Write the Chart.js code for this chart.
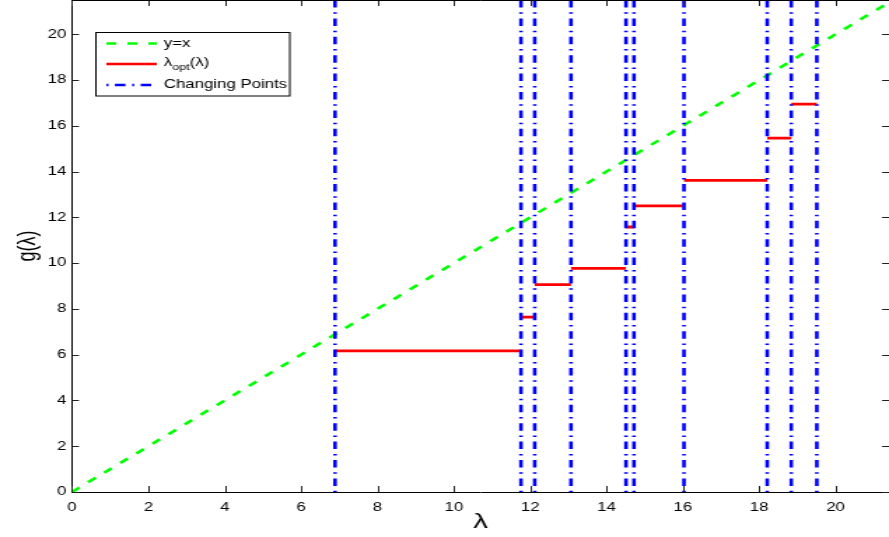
<!DOCTYPE html>
<html lang="en">
<head>
  <meta charset="UTF-8" />
  <title>g(λ) and changing points</title>
  <script src="https://cdn.jsdelivr.net/npm/chart.js"></script>
  <style>
    html, body {
      margin: 0;
      padding: 0;
      background: #fff;
      overflow: hidden;
    }
    canvas {
      display: block;
    }
  </style>
</head>
<body>
  <!-- the original figure is stretched sideways, so the canvas is drawn narrow and widened by css -->
  <canvas id="gChart" width="635" height="537" style="width:889px;height:537px"></canvas>

  <script>
    const lambdaMax = 21.4;
    const gMax = 21.5;

    // lambda values where lambda_opt jumps
    const changePoints = [6.89, 11.76, 12.12, 13.07, 14.51, 14.72, 16.03, 18.21, 18.84, 19.51];
    // lambda_opt level between two consecutive changing points
    const optLevels = [6.17, 7.64, 9.06, 9.77, 11.58, 12.50, 13.62, 15.46, 16.95];

    const xTickValues = [0, 2, 4, 6, 8, 10, 12, 14, 16, 18, 20];
    const yTickValues = [0, 2, 4, 6, 8, 10, 12, 14, 16, 18, 20];

    const legendLabels = ['y=x', 'λopt(λ)', 'Changing Points'];

    const FONT = "'Liberation Sans', Arial, sans-serif";
    const GREEN = '#00ff00', RED = '#ff0000', BLUE = '#0000ff';
    const BLUE_DASH = [7.5, 4.8, 1.5, 4.6];

    const identityData = [{ x: 0, y: 0 }, { x: lambdaMax, y: lambdaMax }];

    const optData = [];
    optLevels.forEach((lv, i) => {
      optData.push({ x: changePoints[i], y: lv });
      optData.push({ x: changePoints[i + 1], y: lv });
      optData.push({ x: changePoints[i + 1], y: null });
    });

    const changeData = [];
    changePoints.forEach(cp => {
      changeData.push({ x: cp, y: gMax });
      changeData.push({ x: cp, y: 0 });
      changeData.push({ x: cp, y: null });
    });

    // matlab style ticks, pointing into the plot, plus the top box line
    const inwardTicks = {
      id: 'inwardTicks',
      afterDraw(chart) {
        const { ctx, chartArea: a, scales: { x, y } } = chart;
        ctx.save();
        ctx.strokeStyle = '#222';
        ctx.lineWidth = 1;
        ctx.beginPath();
        x.ticks.forEach(t => {
          const px = Math.round(x.getPixelForValue(t.value)) + 0.5;
          ctx.moveTo(px, a.bottom);
          ctx.lineTo(px, a.bottom - 6);
          ctx.moveTo(px, a.top);
          ctx.lineTo(px, a.top + 6);
        });
        y.ticks.forEach(t => {
          const py = Math.round(y.getPixelForValue(t.value)) + 0.5;
          ctx.moveTo(a.left, py);
          ctx.lineTo(a.left + 5, py);
          ctx.moveTo(a.right, py);
          ctx.lineTo(a.right - 5, py);
        });
        ctx.stroke();
        ctx.strokeStyle = '#000';
        ctx.beginPath();
        ctx.moveTo(a.left, a.top + 0.5);
        ctx.lineTo(a.right, a.top + 0.5);
        ctx.stroke();
        ctx.restore();
      }
    };

    // legend box drawn by hand because of the subscript in lambda_opt
    const boxLegend = {
      id: 'boxLegend',
      afterDraw(chart) {
        const ctx = chart.ctx;
        const bx = 68.5, by = 32.5, bw = 138.5, bh = 63.5;
        const x0 = 76, x1 = 112, tx = 117;
        const rows = [43.5, 64, 85];
        ctx.save();
        ctx.fillStyle = '#fff';
        ctx.fillRect(bx, by, bw, bh);
        ctx.strokeStyle = '#000';
        ctx.lineWidth = 1;
        ctx.strokeRect(bx, by, bw, bh);

        ctx.lineWidth = 2.6;
        ctx.lineCap = 'butt';
        const styles = [
          { color: GREEN, dash: [7, 8], offset: 0 },
          { color: RED, dash: [], offset: 0 },
          { color: BLUE, dash: BLUE_DASH, offset: 12.3 }
        ];
        styles.forEach((s, i) => {
          ctx.strokeStyle = s.color;
          ctx.setLineDash(s.dash);
          ctx.lineDashOffset = s.offset;
          ctx.beginPath();
          ctx.moveTo(x0, rows[i]);
          ctx.lineTo(x1, rows[i]);
          ctx.stroke();
        });
        ctx.setLineDash([]);

        ctx.fillStyle = '#000';
        ctx.textBaseline = 'middle';
        ctx.textAlign = 'left';
        ctx.font = '12px ' + FONT;
        ctx.fillText(legendLabels[0], tx, rows[0]);
        ctx.fillText(legendLabels[2], tx, rows[2]);

        // λ + subscript opt + (λ)
        let cx = tx;
        ctx.fillText('λ', cx, rows[1] - 1);
        cx += ctx.measureText('λ').width;
        ctx.font = '9px ' + FONT;
        ctx.fillText('opt', cx, rows[1] + 4);
        cx += ctx.measureText('opt').width;
        ctx.font = '12px ' + FONT;
        ctx.fillText('(λ)', cx, rows[1] - 1);
        ctx.restore();
      }
    };

    const ctx = document.getElementById('gChart').getContext('2d');
    new Chart(ctx, {
      type: 'line',
      data: {
        datasets: [
          {
            label: legendLabels[0],
            data: identityData,
            borderColor: GREEN,
            borderWidth: 2.6,
            borderDash: [7, 8],
            pointRadius: 0,
            tension: 0,
            order: 3
          },
          {
            label: legendLabels[1],
            data: optData,
            borderColor: RED,
            borderWidth: 2.8,
            pointRadius: 0,
            tension: 0,
            spanGaps: false,
            order: 2
          },
          {
            label: legendLabels[2],
            data: changeData,
            borderColor: BLUE,
            borderWidth: 2.6,
            borderDash: BLUE_DASH,
            borderCapStyle: 'butt',
            pointRadius: 0,
            tension: 0,
            spanGaps: false,
            order: 1
          }
        ]
      },
      options: {
        responsive: false,
        animation: false,
        devicePixelRatio: 1,
        layout: { padding: 0 },
        scales: {
          x: {
            type: 'linear',
            min: 0,
            max: lambdaMax,
            afterBuildTicks: s => { s.ticks = xTickValues.map(v => ({ value: v })); },
            afterFit: s => {
              s.height = 45;
              s.paddingLeft = 0;
              s.paddingRight = 0;
            },
            grid: { display: false, drawTicks: false },
            border: { display: true, color: '#000', width: 1 },
            ticks: {
              color: '#000',
              padding: 8,
              maxRotation: 0,
              font: { family: FONT, size: 12 }
            },
            title: {
              display: true,
              text: 'λ',
              color: '#000',
              padding: { top: 0, bottom: 2 },
              font: { family: FONT, size: 21 }
            }
          },
          y: {
            type: 'linear',
            min: 0,
            max: gMax,
            afterBuildTicks: s => { s.ticks = yTickValues.map(v => ({ value: v })); },
            afterFit: s => {
              s.width = 51.43;
              s.paddingTop = 0;
              s.paddingBottom = 0;
            },
            grid: { display: false, drawTicks: false },
            border: { display: true, color: '#000', width: 1 },
            ticks: {
              color: '#000',
              padding: 4,
              font: { family: FONT, size: 12 }
            },
            title: {
              display: true,
              text: 'g(λ)',
              color: '#000',
              padding: { top: 9, bottom: 0 },
              font: { family: FONT, size: 18 }
            }
          }
        },
        plugins: {
          legend: { display: false },
          tooltip: { enabled: false },
          title: { display: false }
        }
      },
      plugins: [inwardTicks, boxLegend]
    });
  </script>
</body>
</html>
